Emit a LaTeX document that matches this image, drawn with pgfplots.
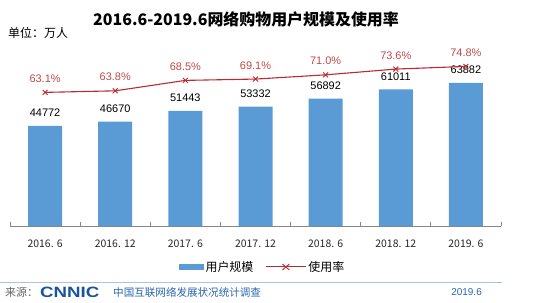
\documentclass[border=0pt]{standalone}
\usepackage{fontspec}
\setmainfont{Liberation Sans}
\newfontfamily\cjk{Noto Sans CJK SC}
\usepackage{pgfplots}
\usepackage{pgfplotstable}
\pgfplotsset{compat=1.18}
\pgfplotsset{/pgf/number format/assume math mode=true}

\definecolor{barblue}{RGB}{91,155,213}
\definecolor{ratered}{RGB}{190,40,50}
\definecolor{ratelabel}{RGB}{192,72,72}
\definecolor{axisgray}{RGB}{134,134,134}
\definecolor{footblue}{RGB}{40,100,175}
\definecolor{logoblue}{RGB}{24,84,160}
\definecolor{ruleblue}{RGB}{170,196,222}

% users: 10k persons; rate: percent of internet users
\pgfplotstableread{
x users rate
0 44772 63.1
1 46670 63.8
2 51443 68.5
3 53332 69.1
4 56892 71.0
5 61011 73.6
6 63882 74.8
}\shoppingdata

\begin{document}
\begin{tikzpicture}[x=1bp,y=1bp]
\path[use as bounding box] (-10,-76) rectangle (531,226);

% title and unit
\node[font=\cjk\bfseries\fontsize{16}{18}\selectfont, anchor=center] at (236,207) {2016.6-2019.6网络购物用户规模及使用率};
\node[font=\cjk\fontsize{12}{14}\selectfont, anchor=west, inner sep=0pt] at (-2,193) {单位：万人};

% bars: user scale
\begin{axis}[
  scale only axis, width=491bp, height=186bp,
  at={(0,0)}, anchor=south west,
  ybar, bar width=34bp,
  xmin=-0.5, xmax=6.5, ymin=0, ymax=83070,
  axis x line*=bottom, axis y line=none,
  axis line style={axisgray, line width=0.8bp},
  xtick={0,...,6},
  xticklabels={2016. 6,2016. 12,2017. 6,2017. 12,2018. 6,2018. 12,2019. 6},
  major tick length=0pt,
  extra x ticks={-0.5,0.5,1.5,2.5,3.5,4.5,5.5,6.5},
  extra x tick labels={},
  extra x tick style={major tick length=4bp, tick align=inside, tick style={axisgray, line width=0.8bp}},
  xticklabel style={font=\cjk\fontsize{10.5}{12}\selectfont, anchor=base, yshift=-21bp, text=black!85},
  clip=false,
  nodes near coords,
  every node near coord/.append style={font=\fontsize{11}{13}\selectfont, anchor=base, inner sep=0pt, yshift=9bp, text=black},
  /pgf/number format/.cd, fixed, precision=0, 1000 sep={},
  /pgfplots/.cd,
  legend style={at={(0.514,-0.2204)}, anchor=center, draw=none, fill=none,
    legend columns=2, font=\cjk\fontsize{12}{14}\selectfont,
    /tikz/every even column/.append style={column sep=10bp}},
]
\addplot[fill=barblue, draw=none,
  legend image code/.code={\fill[barblue] (0bp,-2.5bp) rectangle (25bp,2.5bp);}]
  table[x=x, y=users]{\shoppingdata};
\addlegendentry{用户规模}
\addlegendimage{legend image code/.code={
  \draw[ratered, line width=1bp] (0bp,0bp) -- (40bp,0bp);
  \draw[ratered, line width=0.9bp] (16.5bp,-3bp) -- (23.5bp,3bp) (16.5bp,3bp) -- (23.5bp,-3bp);}}
\addlegendentry{使用率}
\end{axis}

% line: usage rate on its own scale
\begin{axis}[
  scale only axis, width=491bp, height=186bp,
  at={(0,0)}, anchor=south west,
  xmin=-0.5, xmax=6.5, ymin=2.9, ymax=86.7,
  hide axis, clip=false,
]
\addplot[ratered, line width=1.1bp, mark=x, mark size=3.5bp,
  mark options={line width=0.9bp},
  nodes near coords={\pgfmathprintnumber[fixed, fixed zerofill, precision=1]{\pgfplotspointmeta}\%},
  every node near coord/.append style={font=\fontsize{11}{13}\selectfont, anchor=base, inner sep=0pt, yshift=10bp, text=ratelabel}]
  table[x=x, y=rate]{\shoppingdata};
\end{axis}

% footer
\draw[ruleblue, line width=0.8bp] (-10,-56.5) -- (492,-56.5);
\node[font=\cjk\fontsize{11}{13}\selectfont, text=black!60, anchor=west, inner sep=0pt] at (-5,-66) {来源：};
\node[font=\bfseries\fontsize{15}{16}\selectfont, text=logoblue, anchor=west, inner sep=0pt, xscale=1.25] at (30,-66) {CNNIC};
\node[font=\cjk\fontsize{10.6}{12}\selectfont, text=footblue, anchor=west, inner sep=0pt] at (103,-66) {中国互联网络发展状况统计调查};
\node[font=\fontsize{10}{12}\selectfont, text=footblue, anchor=east, inner sep=0pt] at (472,-66) {2019.6};
\end{tikzpicture}
\end{document}
